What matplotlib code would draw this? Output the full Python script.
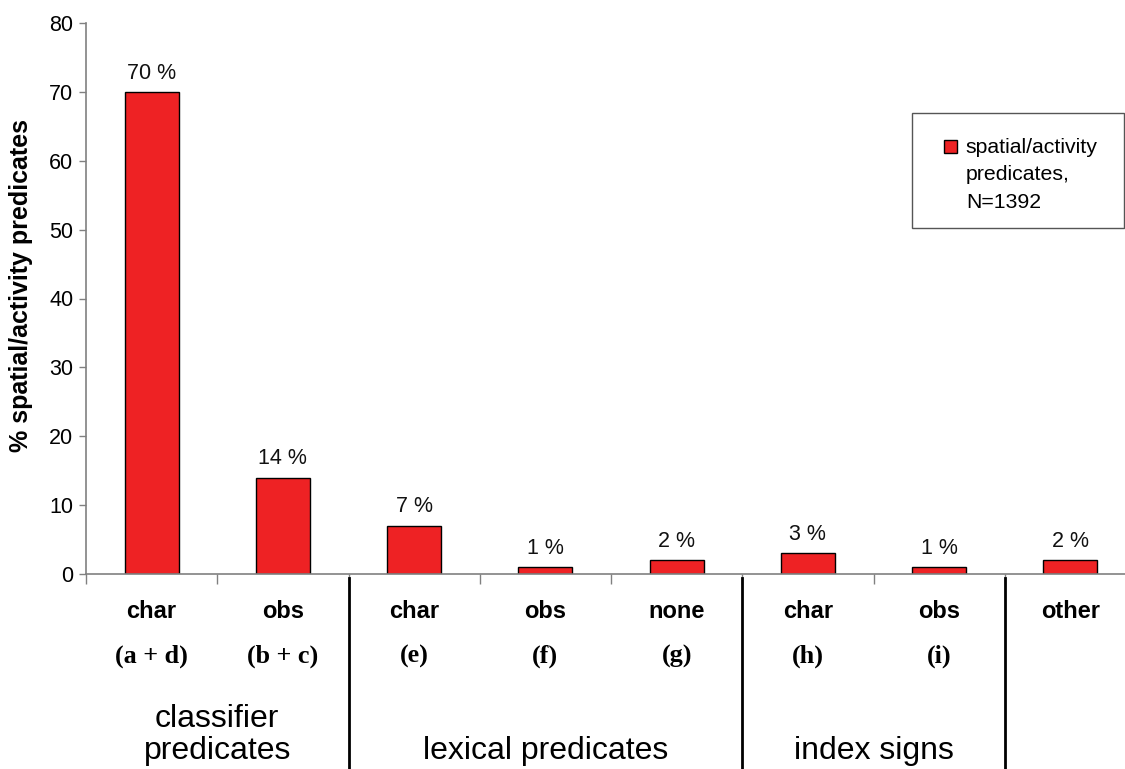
import matplotlib

matplotlib.use("Agg")
import matplotlib.pyplot as plt  # noqa: E402
from matplotlib.patches import Rectangle  # noqa: E402
from matplotlib.transforms import blended_transform_factory  # noqa: E402
import numpy as np  # noqa: E402

# data
categories = ["char", "obs", "char", "obs", "none", "char", "obs", "other"]
sublabels = ["(a + d)", "(b + c)", "(e)", "(f)", "(g)", "(h)", "(i)", ""]
percent = [70, 14, 7, 1, 2, 3, 1, 2]
groups = ["classifier\npredicates", "lexical predicates", "index signs", ""]
group_spans = [(0, 1), (2, 4), (5, 6), (7, 7)]
legend_label = "spatial/activity\npredicates,\nN=1392"

RED = "#EE2224"
SANS = "Liberation Sans"
SERIF = "Liberation Serif"

fig = plt.figure(figsize=(11.25, 7.69), dpi=100)
# axis runs past the right edge of the picture, as in the reference crop
ax = fig.add_axes([86 / 1125, 195 / 769, 1050 / 1125, 551 / 769])

x = np.arange(len(categories))
bars = ax.bar(x, percent, width=0.41, color=RED, edgecolor="black", linewidth=1.0)

for b, v in zip(bars, percent):
    ax.annotate(f"{v} %", (b.get_x() + b.get_width() / 2, b.get_height()),
                xytext=(0, 6), textcoords="offset points", ha="center", va="bottom",
                fontsize=15.5, family=SANS, color="#111111")

ax.set_xlim(-0.5, len(categories) - 0.5)
ax.set_ylim(0, 80)
ax.set_yticks(np.arange(0, 81, 10))
ax.tick_params(axis="y", direction="out", length=5, width=1, color="#808080",
               labelsize=15.5, pad=4)
for lab in ax.get_yticklabels():
    lab.set_family(SANS)

# category boundaries carry the x ticks
ax.set_xticks(np.arange(-0.5, len(categories)), [""] * (len(categories) + 1))
ax.tick_params(axis="x", direction="out", length=7, width=1, color="#808080")

for side in ("top", "right"):
    ax.spines[side].set_visible(False)
for side in ("left", "bottom"):
    ax.spines[side].set_color("#808080")
    ax.spines[side].set_linewidth(1.2)

ax.set_ylabel("% spatial/activity predicates", fontsize=18, fontweight="bold",
              family=SANS)
ax.yaxis.set_label_coords(-0.0505, 0.5245)

tr = blended_transform_factory(ax.transData, ax.transAxes)
for xi, cat, sub in zip(x, categories, sublabels):
    ax.text(xi, -0.068, cat, transform=tr, ha="center", va="center",
            fontsize=17, fontweight="bold", family=SANS)
    if sub:
        ax.text(xi, -0.150, sub, transform=tr, ha="center", va="center",
                fontsize=18.8, fontweight="bold", family=SERIF)

for name, (a, b) in zip(groups, group_spans):
    if name:
        ax.text((a + b) / 2, -0.3485, name, transform=tr, ha="center", va="bottom",
                fontsize=23, family=SANS, linespacing=1.1)

# group separators
for (a, b) in group_spans[1:]:
    ax.plot([a - 0.5, a - 0.5], [-0.008, -0.4], transform=tr, color="black",
            lw=2, clip_on=False)

# legend box
ax.add_patch(Rectangle((0.7867, 0.628), 0.2019, 0.2087, transform=ax.transAxes,
                       facecolor="white", edgecolor="#555555", lw=1.0, clip_on=False))
ax.add_patch(Rectangle((0.8171, 0.7641), 0.0124, 0.0236, transform=ax.transAxes,
                       facecolor=RED, edgecolor="black", lw=1.0, clip_on=False))
ax.text(0.838, 0.792, legend_label, transform=ax.transAxes, ha="left", va="top",
        fontsize=15.3, family=SANS, linespacing=1.58)

fig.savefig("out.png", dpi=100)
